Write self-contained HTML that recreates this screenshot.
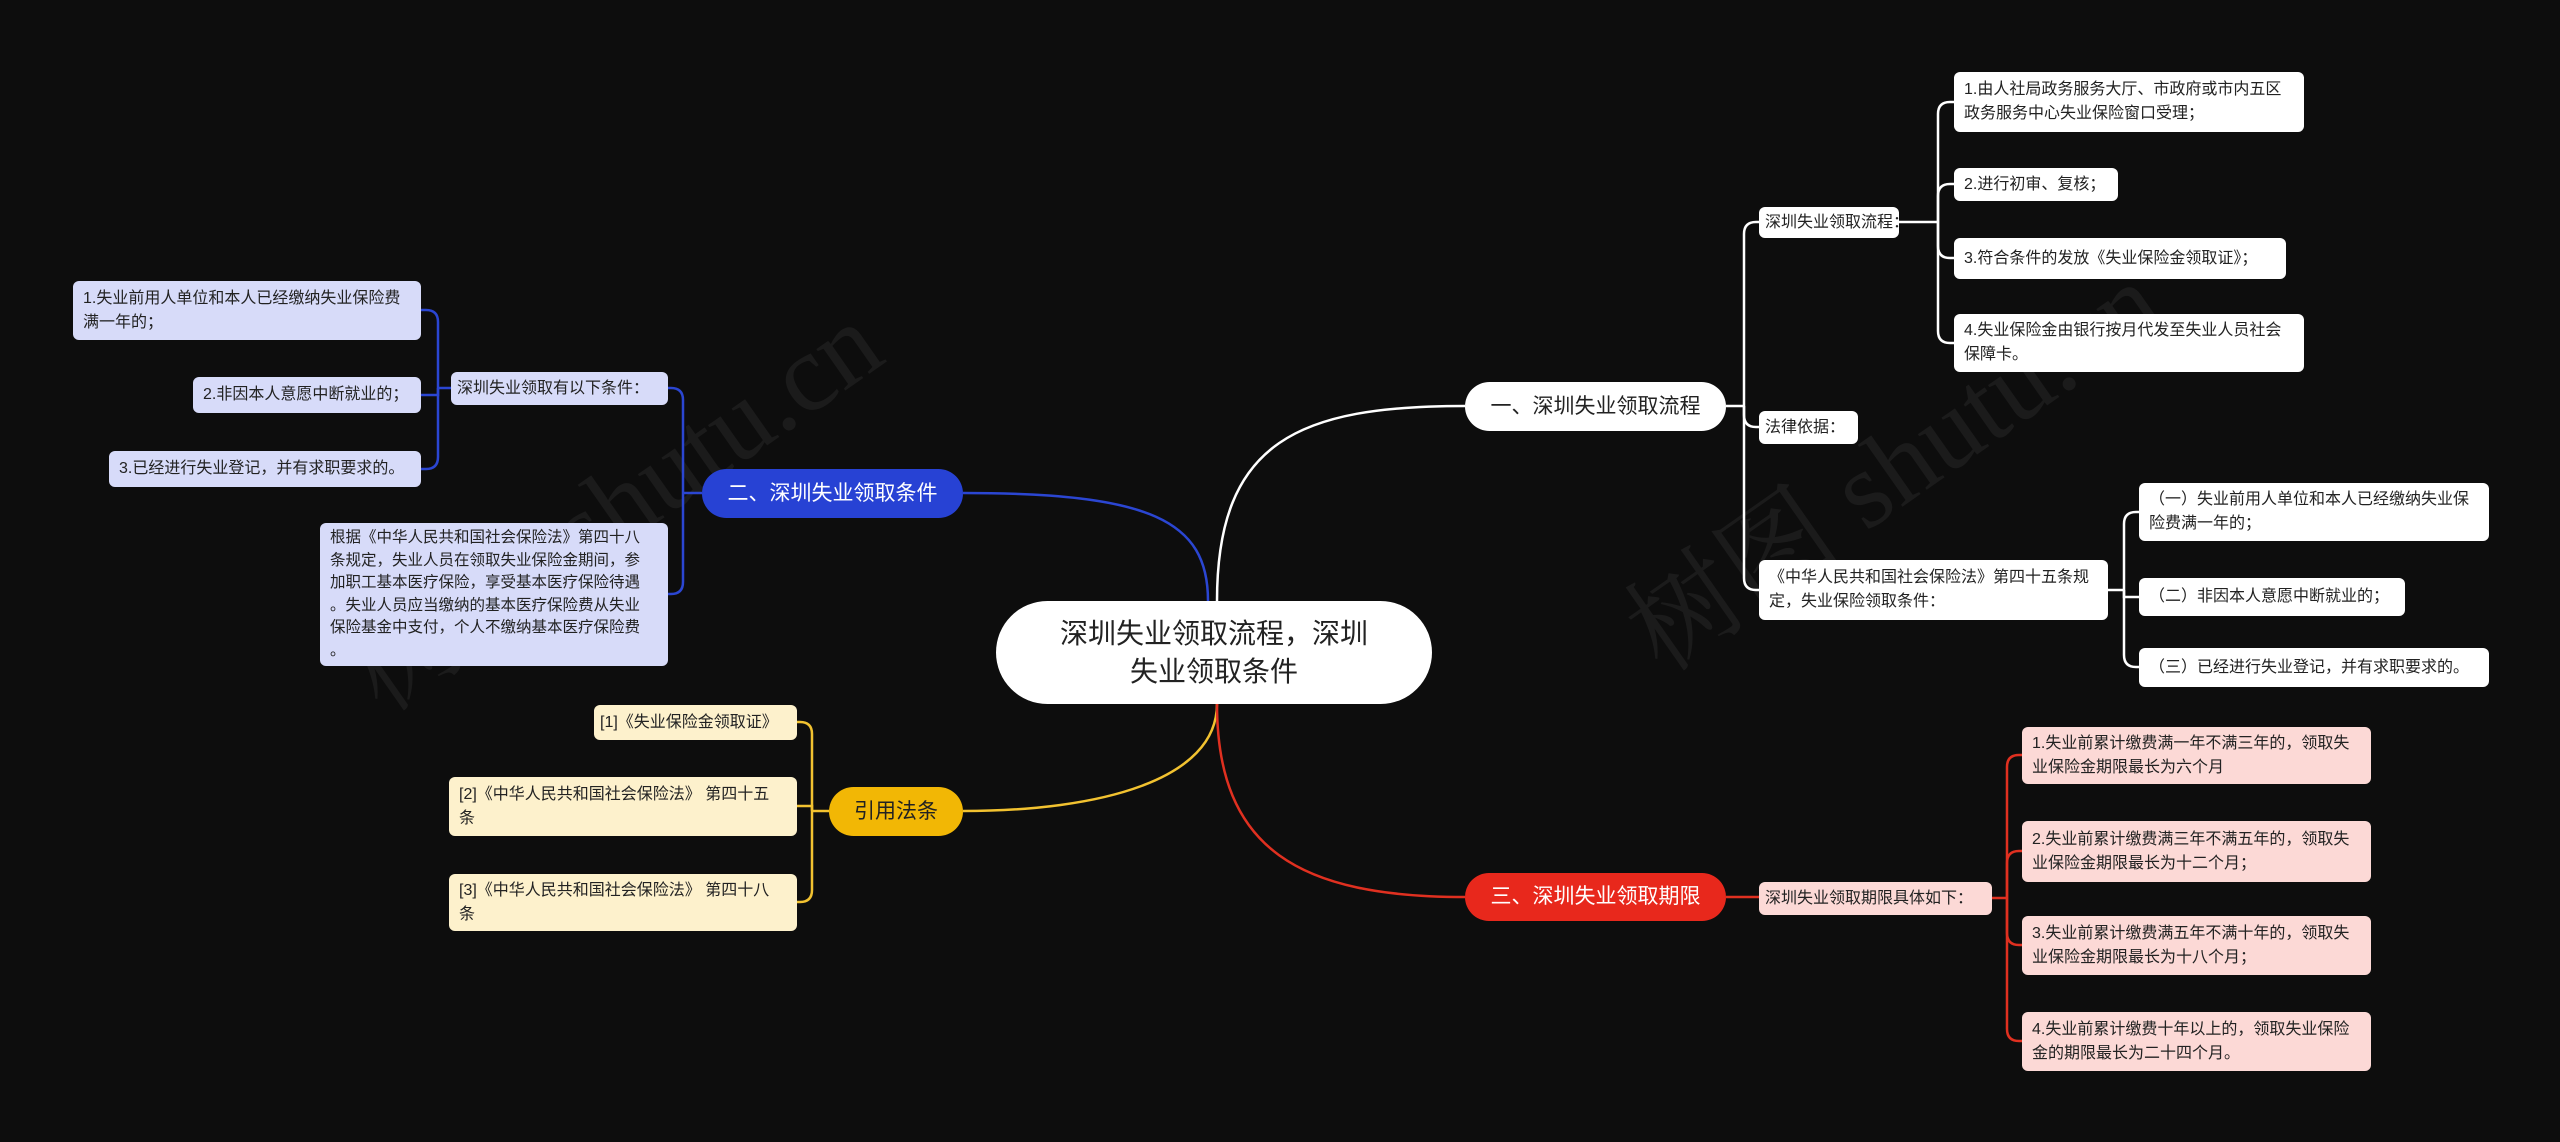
<!DOCTYPE html>
<html><head><meta charset="utf-8">
<style>
html,body{margin:0;padding:0;background:#0d0d0d;}
body{width:2560px;height:1142px;position:relative;overflow:hidden;font-family:"Liberation Sans","Noto Sans CJK SC",sans-serif;}
.n{position:absolute;box-sizing:border-box;display:flex;align-items:center;font-size:16px;line-height:24px;padding:4px 10px;border-radius:6px;color:#222;}
.s{white-space:nowrap;padding:4px 6px;}
.w{background:#fff;}
.b{background:#d7dbf9;}
.y{background:#fdf1cc;}
.r{background:#fcd9d6;}
.p{justify-content:center;border-radius:26px;font-size:21px;}
.wm{position:absolute;color:rgba(255,255,255,0.06);font-size:110px;font-family:"Liberation Serif","Noto Serif CJK SC",serif;transform:rotate(-35deg);white-space:nowrap;}
</style></head><body>
<div class="wm" style="left:300px;top:420px;">树图 shutu.cn</div>
<div class="wm" style="left:1580px;top:380px;">树图 shutu.cn</div>
<svg width="2560" height="1142" style="position:absolute;left:0;top:0" fill="none" stroke-width="2.5">
<g stroke="#ffffff">
<path d="M1217 601 C1217 440 1300 406 1465 406"/>
<path d="M1726 406 H1744"/>
<path d="M1744 406 V234 Q1744 222 1756 222 H1759"/>
<path d="M1744 406 V415 Q1744 427 1756 427 H1759"/>
<path d="M1744 406 V578 Q1744 590 1756 590 H1759"/>
<path d="M1899 222 H1938"/>
<path d="M1938 222 V114 Q1938 102 1950 102 H1954"/>
<path d="M1938 222 V196 Q1938 184 1950 184 H1954"/>
<path d="M1938 222 V246 Q1938 258 1950 258 H1954"/>
<path d="M1938 222 V331 Q1938 343 1950 343 H1954"/>
<path d="M2108 590 H2124"/>
<path d="M2124 590 V524 Q2124 512 2136 512 H2139"/>
<path d="M2124 590 V597 H2139"/>
<path d="M2124 590 V655 Q2124 667 2136 667 H2139"/>
</g>
<g stroke="#2b46d2">
<path d="M1208 601 C1208 520 1150 493 963 493"/>
<path d="M702 493 H683"/>
<path d="M683 493 V400 Q683 388 671 388 H668"/>
<path d="M683 493 V582 Q683 594 671 594 H668"/>
<path d="M451 388 H438"/>
<path d="M438 388 V322 Q438 310 426 310 H421"/>
<path d="M438 388 V395 H421"/>
<path d="M438 388 V457 Q438 469 426 469 H421"/>
</g>
<g stroke="#f2c230">
<path d="M1217 704 C1217 780 1100 811 963 811"/>
<path d="M829 811 H812"/>
<path d="M812 811 V734 Q812 722 800 722 H797"/>
<path d="M812 811 V806 H797"/>
<path d="M812 811 V890 Q812 902 800 902 H797"/>
</g>
<g stroke="#e03020">
<path d="M1217 704 C1217 850 1300 897 1465 897"/>
<path d="M1726 897 H1759"/>
<path d="M1992 898 H2007"/>
<path d="M2007 898 V767 Q2007 755 2019 755 H2022"/>
<path d="M2007 898 V863 Q2007 851 2019 851 H2022"/>
<path d="M2007 898 V933 Q2007 945 2019 945 H2022"/>
<path d="M2007 898 V1029 Q2007 1041 2019 1041 H2022"/>
</g>
</svg>

<div class="n w p" style="left:996px;top:601px;width:436px;height:103px;border-radius:52px;font-size:28px;line-height:38px;text-align:center;">深圳失业领取流程，深圳<br>失业领取条件</div>

<div class="n w p" style="left:1465px;top:382px;width:261px;height:49px;">一、深圳失业领取流程</div>
<div class="n w s" style="left:1759px;top:207px;width:140px;height:31px;">深圳失业领取流程：</div>
<div class="n w" style="left:1954px;top:72px;width:350px;height:60px;">1.由人社局政务服务大厅、市政府或市内五区政务服务中心失业保险窗口受理；</div>
<div class="n w" style="left:1954px;top:168px;width:164px;height:33px;">2.进行初审、复核；</div>
<div class="n w" style="left:1954px;top:238px;width:332px;height:41px;">3.符合条件的发放《失业保险金领取证》；</div>
<div class="n w" style="left:1954px;top:314px;width:350px;height:58px;">4.失业保险金由银行按月代发至失业人员社会保障卡。</div>
<div class="n w s" style="left:1759px;top:411px;width:99px;height:33px;">法律依据：</div>
<div class="n w" style="left:1759px;top:560px;width:349px;height:60px;">《中华人民共和国社会保险法》第四十五条规定，失业保险领取条件：</div>
<div class="n w" style="left:2139px;top:483px;width:350px;height:58px;">（一）失业前用人单位和本人已经缴纳失业保险费满一年的；</div>
<div class="n w" style="left:2139px;top:578px;width:266px;height:38px;">（二）非因本人意愿中断就业的；</div>
<div class="n w" style="left:2139px;top:648px;width:350px;height:39px;">（三）已经进行失业登记，并有求职要求的。</div>

<div class="n p" style="left:702px;top:469px;width:261px;height:49px;background:#2742d4;color:#fff;">二、深圳失业领取条件</div>
<div class="n b s" style="left:451px;top:372px;width:217px;height:33px;">深圳失业领取有以下条件：</div>
<div class="n b" style="left:73px;top:281px;width:348px;height:59px;">1.失业前用人单位和本人已经缴纳失业保险费满一年的；</div>
<div class="n b" style="left:193px;top:377px;width:228px;height:36px;">2.非因本人意愿中断就业的；</div>
<div class="n b" style="left:109px;top:451px;width:312px;height:36px;">3.已经进行失业登记，并有求职要求的。</div>
<div class="n b" style="left:320px;top:523px;width:348px;height:143px;align-items:flex-start;white-space:nowrap;font-size:15.5px;line-height:22.5px;">根据《中华人民共和国社会保险法》第四十八<br>条规定，失业人员在领取失业保险金期间，参<br>加职工基本医疗保险，享受基本医疗保险待遇<br>。失业人员应当缴纳的基本医疗保险费从失业<br>保险基金中支付，个人不缴纳基本医疗保险费<br>。</div>

<div class="n p" style="left:829px;top:787px;width:134px;height:49px;background:#f2b705;color:#222;">引用法条</div>
<div class="n y s" style="left:594px;top:705px;width:203px;height:35px;">[1]《失业保险金领取证》</div>
<div class="n y" style="left:449px;top:777px;width:348px;height:59px;">[2]《中华人民共和国社会保险法》 第四十五<br>条</div>
<div class="n y" style="left:449px;top:874px;width:348px;height:57px;">[3]《中华人民共和国社会保险法》 第四十八<br>条</div>

<div class="n p" style="left:1465px;top:873px;width:261px;height:48px;background:#e8281c;color:#fff;">三、深圳失业领取期限</div>
<div class="n r s" style="left:1759px;top:882px;width:233px;height:33px;">深圳失业领取期限具体如下：</div>
<div class="n r" style="left:2022px;top:727px;width:349px;height:57px;">1.失业前累计缴费满一年不满三年的，领取失业保险金期限最长为六个月</div>
<div class="n r" style="left:2022px;top:821px;width:349px;height:61px;">2.失业前累计缴费满三年不满五年的，领取失业保险金期限最长为十二个月；</div>
<div class="n r" style="left:2022px;top:916px;width:349px;height:59px;">3.失业前累计缴费满五年不满十年的，领取失业保险金期限最长为十八个月；</div>
<div class="n r" style="left:2022px;top:1012px;width:349px;height:59px;">4.失业前累计缴费十年以上的，领取失业保险金的期限最长为二十四个月。</div>
</body></html>
